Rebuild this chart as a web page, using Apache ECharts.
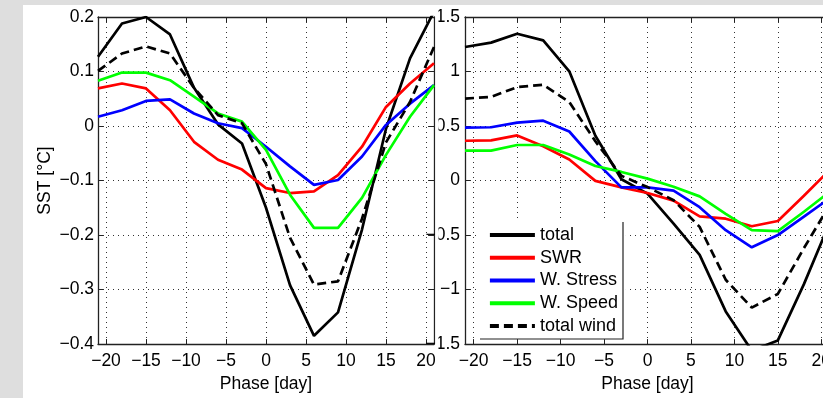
<!DOCTYPE html>
<html>
<head>
<meta charset="utf-8">
<script src="https://cdn.jsdelivr.net/npm/echarts@6/dist/echarts.min.js"></script>
<style>
  html, body { margin: 0; padding: 0; overflow: hidden; background: #dedede; }
  #chart { width: 840px; height: 398px; }
</style>
</head>
<body>
<div id="chart"></div>
<script>
// phase axis, every 3 days
const phase = [-21, -18, -15, -12, -9, -6, -3, 0, 3, 6, 9, 12, 15, 18, 21];
const xTicks = [-20, -15, -10, -5, 0, 5, 10, 15, 20];

// left panel: SST [°C]
const sstTotal = [0.127, 0.188, 0.2, 0.168, 0.07, 0.003, -0.032, -0.15, -0.292, -0.385, -0.342, -0.19, -0.005, 0.124, 0.21];
const sstSwr = [0.069, 0.078, 0.069, 0.029, -0.029, -0.062, -0.08, -0.114, -0.123, -0.12, -0.09, -0.038, 0.035, 0.078, 0.115];
const sstStress = [0.017, 0.029, 0.046, 0.049, 0.023, 0.005, -0.004, -0.038, -0.074, -0.108, -0.099, -0.056, 0.002, 0.041, 0.075];
const sstSpeed = [0.083, 0.098, 0.098, 0.084, 0.054, 0.023, 0.008, -0.044, -0.126, -0.187, -0.187, -0.132, -0.053, 0.017, 0.075];
const sstWind = [0.101, 0.133, 0.146, 0.133, 0.07, 0.02, 0.005, -0.07, -0.205, -0.291, -0.285, -0.17, -0.03, 0.044, 0.145];

// right panel
const rTotal = [1.225, 1.265, 1.346, 1.286, 1.002, 0.411, 0.012, -0.12, -0.395, -0.682, -1.2, -1.56, -1.466, -0.95, -0.38];
const rSwr = [0.365, 0.368, 0.414, 0.314, 0.193, -0.003, -0.063, -0.114, -0.184, -0.329, -0.35, -0.419, -0.371, -0.14, 0.1];
const rStress = [0.486, 0.489, 0.531, 0.549, 0.45, 0.178, -0.063, -0.063, -0.093, -0.244, -0.455, -0.612, -0.5, -0.33, -0.16];
const rSpeed = [0.275, 0.275, 0.326, 0.326, 0.239, 0.133, 0.079, 0.018, -0.057, -0.145, -0.305, -0.455, -0.464, -0.286, -0.1];
const rWind = [0.752, 0.767, 0.857, 0.878, 0.72, 0.36, 0.043, -0.06, -0.18, -0.425, -0.91, -1.165, -1.04, -0.62, -0.22];

const names = ['total', 'SWR', 'W. Stress', 'W. Speed', 'total wind'];
const colors = ['#000000', '#ff0000', '#0000ff', '#00ff00', '#000000'];

const font = 'Liberation Sans';
const fmt = v => (v < 0 ? '\u2212' : '') + Math.abs(Math.round(v * 10) / 10);

const axisLine = () => ({ show: true, onZero: false, lineStyle: { color: '#222', width: 1.3 } });
const grid = () => ({ show: true, lineStyle: { color: '#333', width: 1, type: [1, 4] } });
const tick = (custom) => {
  const t = { show: true, inside: true, length: 5, lineStyle: { color: '#222' } };
  if (custom) t.customValues = custom;
  return t;
};

function xAxes(gi) {
  return [
    {
      type: 'value', gridIndex: gi, min: -21, max: 21, position: 'bottom',
      axisLine: axisLine(), axisTick: tick(xTicks), splitLine: grid(),
      axisLabel: { customValues: xTicks, formatter: fmt, margin: 8, fontSize: 17.5, color: '#000', fontFamily: font },
      name: 'Phase [day]', nameLocation: 'middle', nameGap: 30,
      nameTextStyle: { fontSize: 17.5, color: '#000', fontFamily: font }
    },
    {
      type: 'value', gridIndex: gi, min: -21, max: 21, position: 'top',
      axisLine: axisLine(), axisTick: tick(xTicks), splitLine: { show: false },
      axisLabel: { show: false, customValues: xTicks }
    }
  ];
}

function yAxes(gi, min, max, step, margin, name) {
  const main = {
    type: 'value', gridIndex: gi, min: min, max: max, interval: step, position: 'left',
    axisLine: axisLine(), axisTick: tick(), splitLine: grid(),
    axisLabel: { formatter: fmt, margin: margin, fontSize: 17.5, color: '#000', fontFamily: font }
  };
  if (name) {
    main.name = name;
    main.nameLocation = 'middle';
    main.nameGap = 44;
    main.nameTextStyle = { fontSize: 17.5, color: '#000', fontFamily: font };
  }
  return [main, {
    type: 'value', gridIndex: gi, min: min, max: max, interval: step, position: 'right',
    axisLine: axisLine(), axisTick: tick(), splitLine: { show: false }, axisLabel: { show: false }
  }];
}

function series(axis, sets) {
  return sets.map((vals, k) => ({
    name: names[k],
    type: 'line',
    xAxisIndex: axis,
    yAxisIndex: axis,
    symbol: 'none',
    silent: true,
    data: phase.map((p, i) => [p, vals[i]]),
    itemStyle: { color: colors[k] },
    lineStyle: { color: colors[k], width: 2.7, type: k === 4 ? [9, 5] : 'solid' }
  }));
}

const chart = echarts.init(document.getElementById('chart'));

chart.setOption({
  backgroundColor: '#dedede',
  animation: false,
  grid: [
    { left: 98, top: 17, width: 336, height: 327 },
    { left: 465, top: 17, width: 365, height: 332 }
  ],
  xAxis: [...xAxes(0), ...xAxes(1)],
  yAxis: [...yAxes(0, -0.4, 0.2, 0.1, 4, 'SST [°C]'), ...yAxes(1, -1.5, 1.5, 0.5, 5)],
  legend: {
    left: 480, top: 222,
    orient: 'vertical',
    data: names,
    backgroundColor: '#fff',
    padding: [4, 8, 4, 8],
    itemWidth: 45, itemHeight: 14, itemGap: 4.75,
    selectedMode: false,
    // line only, no marker in the key
    itemStyle: { color: 'rgba(0,0,0,0)', borderWidth: 0, opacity: 0 },
    lineStyle: { width: 3.8 },
    textStyle: { fontSize: 18, lineHeight: 18, color: '#000', fontFamily: font }
  },
  graphic: [
    { type: 'rect', z: -10, silent: true, shape: { x: 23, y: 5, width: 830, height: 400 }, style: { fill: '#fff' } },
    { type: 'rect', z: 100, silent: true, shape: { x: 435.5, y: 5, width: 3, height: 400 }, style: { fill: '#fff' } },
    { type: 'polyline', z: 100, silent: true, shape: { points: [[623, 222], [623, 339], [480, 339]] }, style: { stroke: '#222', lineWidth: 1.2, fill: null } }
  ],
  series: [
    ...series(0, [sstTotal, sstSwr, sstStress, sstSpeed, sstWind]),
    ...series(2, [rTotal, rSwr, rStress, rSpeed, rWind])
  ]
});
</script>
</body>
</html>
